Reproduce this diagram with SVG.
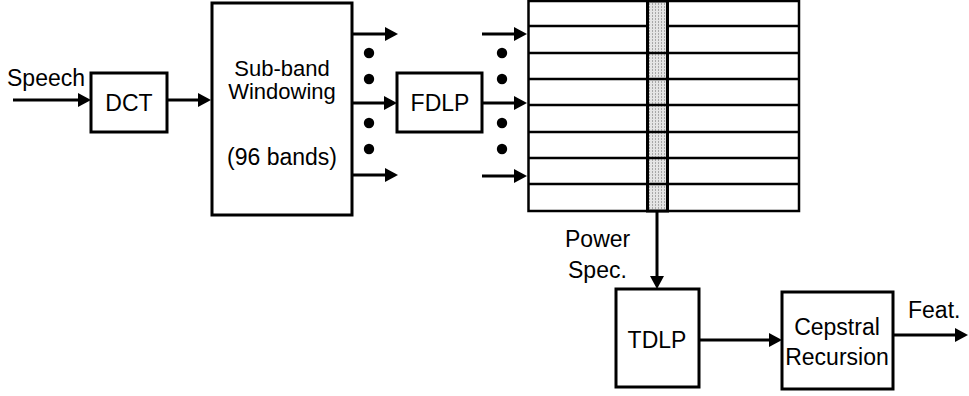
<svg xmlns="http://www.w3.org/2000/svg" width="969" height="396" viewBox="0 0 969 396">
<style>
.box{fill:#fff;stroke:#000;stroke-width:3}
.ln{fill:none;stroke:#000;stroke-width:3}
.grid{fill:none;stroke:#000;stroke-width:2.5}
.t{font-family:"Liberation Sans",Arial,sans-serif;font-size:23px;fill:#000}
.s{font-size:22px}
.m{text-anchor:middle}
.dot{fill:#000}
</style>
<defs>
<marker id="ah" markerUnits="userSpaceOnUse" markerWidth="14" markerHeight="14" refX="7" refY="7" orient="auto">
<path d="M0,0 L13,7 L0,14 z" fill="#000"/>
</marker>
<pattern id="pt" width="3" height="3" patternUnits="userSpaceOnUse">
<rect width="3" height="3" fill="#e4e4e4"/>
<rect x="1" y="0" width="1" height="2" fill="#a8a8a8"/>
</pattern>
</defs>
<g id="connectors">
<line class="ln" x1="13" y1="100" x2="85" y2="100" marker-end="url(#ah)"/>
<line class="ln" x1="167" y1="100" x2="205" y2="100" marker-end="url(#ah)"/>
<line class="ln" x1="352" y1="34" x2="392" y2="34" marker-end="url(#ah)"/>
<line class="ln" x1="352" y1="103" x2="391" y2="103" marker-end="url(#ah)"/>
<line class="ln" x1="352" y1="175" x2="392" y2="175" marker-end="url(#ah)"/>
<line class="ln" x1="482" y1="34" x2="521" y2="34" marker-end="url(#ah)"/>
<line class="ln" x1="482" y1="103" x2="521" y2="103" marker-end="url(#ah)"/>
<line class="ln" x1="482" y1="176" x2="521" y2="176" marker-end="url(#ah)"/>
<line class="ln" x1="657" y1="211" x2="657" y2="283" marker-end="url(#ah)"/>
<line class="ln" x1="699" y1="340" x2="776" y2="340" marker-end="url(#ah)"/>
<line class="ln" x1="893" y1="335" x2="962" y2="335" marker-end="url(#ah)"/>
<circle class="dot" cx="369" cy="53" r="5.2"/>
<circle class="dot" cx="369" cy="79" r="5.2"/>
<circle class="dot" cx="369" cy="123" r="5.2"/>
<circle class="dot" cx="369" cy="149" r="5.2"/>
<circle class="dot" cx="502" cy="53" r="5.2"/>
<circle class="dot" cx="502" cy="79" r="5.2"/>
<circle class="dot" cx="502" cy="123" r="5.2"/>
<circle class="dot" cx="502" cy="149" r="5.2"/>
</g>
<g id="speech-label">
<text class="t" x="7" y="86">Speech</text>
</g>
<g id="dct">
<rect class="box" x="91" y="73" width="76" height="59"/>
<text class="t m" x="129" y="111">DCT</text>
</g>
<g id="subband">
<rect class="box" x="212" y="3" width="140" height="212"/>
<text class="t s m" x="282" y="76">Sub-band</text>
<text class="t s m" x="282" y="99">Windowing</text>
<text class="t m" x="282" y="165">(96 bands)</text>
</g>
<g id="fdlp">
<rect class="box" x="397" y="73" width="85" height="59"/>
<text class="t m" x="440" y="111">FDLP</text>
</g>
<g id="spectrogram">
<rect class="grid" x="528.5" y="1" width="270.5" height="210"/>
<line class="grid" x1="528" y1="26" x2="647" y2="26"/>
<line class="grid" x1="668" y1="26" x2="799" y2="26"/>
<rect x="647.5" y="1" width="20" height="210" fill="url(#pt)"/>
<line class="grid" x1="528" y1="53" x2="799" y2="53"/>
<line class="grid" x1="528" y1="79" x2="799" y2="79"/>
<line class="grid" x1="528" y1="105" x2="799" y2="105"/>
<line class="grid" x1="528" y1="132" x2="799" y2="132"/>
<line class="grid" x1="528" y1="158" x2="799" y2="158"/>
<line class="grid" x1="528" y1="184" x2="799" y2="184"/>
<rect x="647.5" y="1" width="20" height="210" fill="none" stroke="#000" stroke-width="3"/>
</g>
<g id="power-label">
<text class="t" x="565" y="247">Power</text>
<text class="t" x="568" y="278">Spec.</text>
</g>
<g id="tdlp">
<rect class="box" x="616" y="289" width="83" height="98"/>
<text class="t m" x="657" y="348">TDLP</text>
</g>
<g id="cepstral">
<rect class="box" x="782" y="292" width="111" height="97"/>
<text class="t m" x="837" y="335">Cepstral</text>
<text class="t m" x="837" y="365">Recursion</text>
</g>
<g id="feat-label">
<text class="t" x="908" y="318">Feat.</text>
</g>
</svg>
